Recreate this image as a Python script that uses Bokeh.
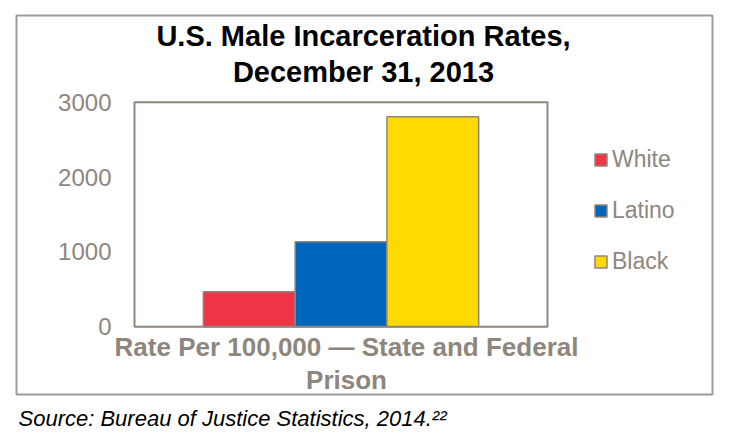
from bokeh.plotting import figure
from bokeh.models import (Range1d, Legend, LegendItem, Label, Title,
                          ColumnDataSource)
from bokeh.core.properties import value
from bokeh.embed import file_html
from bokeh.resources import INLINE

# ---- data ----
groups = ["White", "Latino", "Black"]
rates = [466, 1134, 2805]
colors = ["#EE3446", "#0066BB", "#FFD900"]
y_ticks = [0, 1000, 2000, 3000]
tick_labels = ["0", "1000", "2000", "3000"]
title_lines = ["U.S. Male Incarceration Rates,", "December 31, 2013"]
xlabel_lines = ["Rate Per 100,000 \u2014 State and Federal", "Prison"]
source_text = "Source: Bureau of Justice Statistics, 2014.\u00b2\u00b2"

# ---- styling / layout (pixels) ----
GRAY = "#8E867E"
BORDER = "#9B9B9B"
FONT = "Liberation Sans"
W, H = 720, 440
FL, FT = 16, 15          # frame (= outer box) offset in figure
FW, FH = 696, 380        # frame size
IB_L, IB_R, IB_T, IB_B = 118, 531, 87, 312   # inner plot box inside frame
PAD = 0.75               # category padding on each side (in bar widths)
Y_MAX = y_ticks[-1]

n = len(groups)
xs = list(range(n))
xscale = (IB_R - IB_L) / (n + 2 * PAD)
x0 = -0.5 - PAD - IB_L / xscale
yscale = (IB_B - IB_T) / Y_MAX
y1 = Y_MAX + IB_T / yscale
y0 = -(FH - IB_B) / yscale

p = figure(width=W, height=H, output_backend="svg", toolbar_location=None,
           x_range=Range1d(x0, x0 + FW / xscale), y_range=Range1d(y0, y1),
           x_axis_location=None, y_axis_location=None,
           min_border_left=FL, min_border_right=W - FL - FW,
           min_border_top=FT, min_border_bottom=H - FT - FH)
p.background_fill_color = "white"
p.border_fill_color = "white"
p.outline_line_color = BORDER
p.outline_line_width = 2
p.grid.visible = False

src = ColumnDataSource(dict(x=xs, g=groups, r=rates, c=colors))
bars = p.vbar(x="x", top="r", width=1.0, source=src, fill_color="c",
              line_color=GRAY, line_width=1.5)

# inner plot box
p.quad(left=[-0.5 - PAD], right=[n - 0.5 + PAD], bottom=[0], top=[Y_MAX],
       fill_color=None, line_color=GRAY, line_width=2)

# y tick labels
p.text(x=[-0.5 - PAD] * len(y_ticks), y=y_ticks, text=tick_labels,
       x_offset=-23, text_align="right", text_baseline="middle",
       text_font=value(FONT), text_font_size="24px", text_color=GRAY)

# legend
items = [LegendItem(label=g, renderers=[bars], index=i) for i, g in enumerate(groups)]
leg = Legend(items=items, location=(577, 119), orientation="vertical",
             glyph_width=15, glyph_height=15, label_standoff=4,
             label_text_font=FONT, label_text_font_size="23px",
             label_text_color=GRAY, spacing=24, padding=0, margin=0,
             border_line_color=None, background_fill_alpha=0)
p.add_layout(leg)

def lab(x, y, text, **kw):
    p.add_layout(Label(x=x, y=y, x_units="screen", y_units="screen", text=text,
                       text_baseline="alphabetic", text_font=FONT, **kw))

# title
for t, yb in zip(title_lines, [359, 323]):
    lab(347, yb, t, text_align="center", text_font_style="bold",
        text_font_size="29px", text_color="black")

# x axis label
for t, yb in zip(xlabel_lines, [48, 15]):
    lab(330, yb, t, text_align="center", text_font_style="bold",
        text_font_size="26px", text_color=GRAY)

# source note below the box
p.add_layout(Title(text=source_text, align="left", offset=2, standoff=19,
                   text_font=FONT, text_font_style="italic",
                   text_font_size="22px", text_color="black"), "below")

open("out.html", "w").write(file_html(p, INLINE))
